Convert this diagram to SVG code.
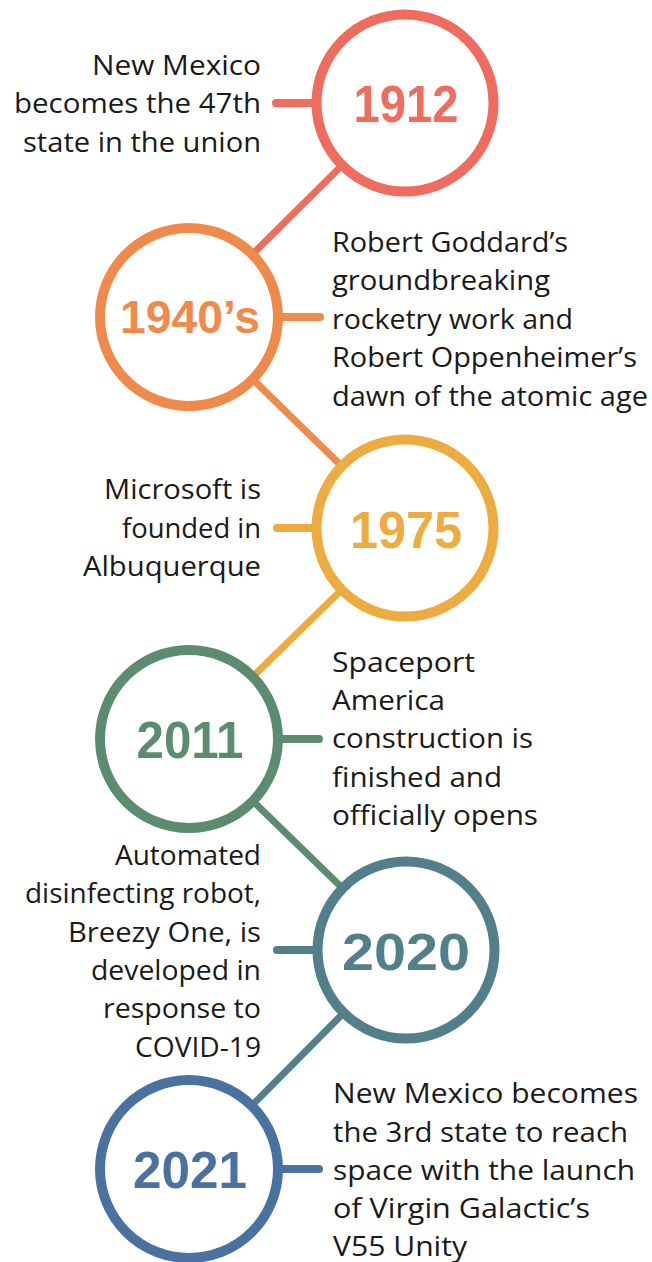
<svg xmlns="http://www.w3.org/2000/svg" width="652" height="1262" viewBox="0 0 652 1262">
<style>
.ring{fill:#fff;stroke-width:10}
.tick{stroke-width:8;stroke-linecap:round;fill:none}
.link{stroke-width:7;fill:none}
.year{font-family:"Liberation Sans",Arial,sans-serif;font-weight:bold;font-size:52px;text-anchor:middle}
.desc{font-family:"Open Sans","Liberation Sans",sans-serif;font-size:27px;fill:#1a1a1a}
.r{text-anchor:end}
.l{text-anchor:start}
</style>
<rect width="652" height="1262" fill="#fff"/>
<g id="connectors">
<line class="link" x1="405" y1="103" x2="189" y2="317" stroke="#F06C5F"/>
<line class="link" x1="189" y1="317" x2="405" y2="528" stroke="#F08A4B"/>
<line class="link" x1="405" y1="528" x2="189" y2="739" stroke="#EEAB40"/>
<line class="link" x1="189" y1="739" x2="406" y2="950" stroke="#5B8C6F"/>
<line class="link" x1="406" y1="950" x2="189" y2="1169" stroke="#527F8A"/>
<line class="tick" x1="276" y1="103" x2="330" y2="103" stroke="#F06C5F"/>
<line class="tick" x1="320" y1="317" x2="260" y2="317" stroke="#F08A4B"/>
<line class="tick" x1="277" y1="528" x2="330" y2="528" stroke="#EEAB40"/>
<line class="tick" x1="319" y1="739" x2="260" y2="739" stroke="#5B8C6F"/>
<line class="tick" x1="277" y1="950" x2="330" y2="950" stroke="#527F8A"/>
<line class="tick" x1="319" y1="1169" x2="260" y2="1169" stroke="#4A72A0"/>
</g>
<g id="n1912">
<circle class="ring" cx="405" cy="103" r="88.5" stroke="#F06C5F"/>
<text class="year" x="406" y="122" fill="#F06C5F" textLength="105" lengthAdjust="spacingAndGlyphs">1912</text>
<text class="desc r" x="261" y="75" textLength="169" lengthAdjust="spacingAndGlyphs">New Mexico</text>
<text class="desc r" x="261" y="113" textLength="247" lengthAdjust="spacingAndGlyphs">becomes the 47th</text>
<text class="desc r" x="261" y="152" textLength="238" lengthAdjust="spacingAndGlyphs">state in the union</text>
</g>
<g id="n1940">
<circle class="ring" cx="189" cy="317" r="89" stroke="#F08A4B"/>
<text class="year" x="190" y="333" fill="#F08A4B" style="font-size:46px" textLength="140" lengthAdjust="spacingAndGlyphs">1940’s</text>
<text class="desc l" x="332" y="252" textLength="236" lengthAdjust="spacingAndGlyphs">Robert Goddard’s</text>
<text class="desc l" x="332" y="290" textLength="218" lengthAdjust="spacingAndGlyphs">groundbreaking</text>
<text class="desc l" x="332" y="329" textLength="241" lengthAdjust="spacingAndGlyphs">rocketry work and</text>
<text class="desc l" x="332" y="367" textLength="305" lengthAdjust="spacingAndGlyphs">Robert Oppenheimer’s</text>
<text class="desc l" x="332" y="406" textLength="316" lengthAdjust="spacingAndGlyphs">dawn of the atomic age</text>
</g>
<g id="n1975">
<circle class="ring" cx="405" cy="528" r="88.5" stroke="#EEAB40"/>
<text class="year" x="406" y="548" fill="#EEAB40" textLength="112" lengthAdjust="spacingAndGlyphs">1975</text>
<text class="desc r" x="261" y="499" textLength="157" lengthAdjust="spacingAndGlyphs">Microsoft is</text>
<text class="desc r" x="261" y="538" textLength="139" lengthAdjust="spacingAndGlyphs">founded in</text>
<text class="desc r" x="261" y="576" textLength="178" lengthAdjust="spacingAndGlyphs">Albuquerque</text>
</g>
<g id="n2011">
<circle class="ring" cx="189" cy="739" r="89" stroke="#5B8C6F"/>
<text class="year" x="190" y="758" fill="#5B8C6F" textLength="107" lengthAdjust="spacingAndGlyphs">2011</text>
<text class="desc l" x="332" y="672" textLength="143" lengthAdjust="spacingAndGlyphs">Spaceport</text>
<text class="desc l" x="332" y="710" textLength="113" lengthAdjust="spacingAndGlyphs">America</text>
<text class="desc l" x="332" y="748" textLength="201" lengthAdjust="spacingAndGlyphs">construction is</text>
<text class="desc l" x="332" y="787" textLength="170" lengthAdjust="spacingAndGlyphs">finished and</text>
<text class="desc l" x="332" y="825" textLength="206" lengthAdjust="spacingAndGlyphs">officially opens</text>
</g>
<g id="n2020">
<circle class="ring" cx="406" cy="950" r="88.5" stroke="#527F8A"/>
<text class="year" x="406" y="970" fill="#527F8A" textLength="128" lengthAdjust="spacingAndGlyphs">2020</text>
<text class="desc r" x="261" y="865" textLength="146" lengthAdjust="spacingAndGlyphs">Automated</text>
<text class="desc r" x="261" y="903" textLength="236" lengthAdjust="spacingAndGlyphs">disinfecting robot,</text>
<text class="desc r" x="261" y="942" textLength="193" lengthAdjust="spacingAndGlyphs">Breezy One, is</text>
<text class="desc r" x="261" y="980" textLength="170" lengthAdjust="spacingAndGlyphs">developed in</text>
<text class="desc r" x="261" y="1018" textLength="158" lengthAdjust="spacingAndGlyphs">response to</text>
<text class="desc r" x="261" y="1057" textLength="126" lengthAdjust="spacingAndGlyphs">COVID-19</text>
</g>
<g id="n2021">
<circle class="ring" cx="189" cy="1169" r="89" stroke="#4A72A0"/>
<text class="year" x="190" y="1188" fill="#4A72A0" textLength="114" lengthAdjust="spacingAndGlyphs">2021</text>
<text class="desc l" x="333" y="1103" textLength="305" lengthAdjust="spacingAndGlyphs">New Mexico becomes</text>
<text class="desc l" x="333" y="1142" textLength="295" lengthAdjust="spacingAndGlyphs">the 3rd state to reach</text>
<text class="desc l" x="333" y="1180" textLength="302" lengthAdjust="spacingAndGlyphs">space with the launch</text>
<text class="desc l" x="333" y="1218" textLength="257" lengthAdjust="spacingAndGlyphs">of Virgin Galactic’s</text>
<text class="desc l" x="333" y="1256" textLength="134" lengthAdjust="spacingAndGlyphs">V55 Unity</text>
</g>
</svg>
